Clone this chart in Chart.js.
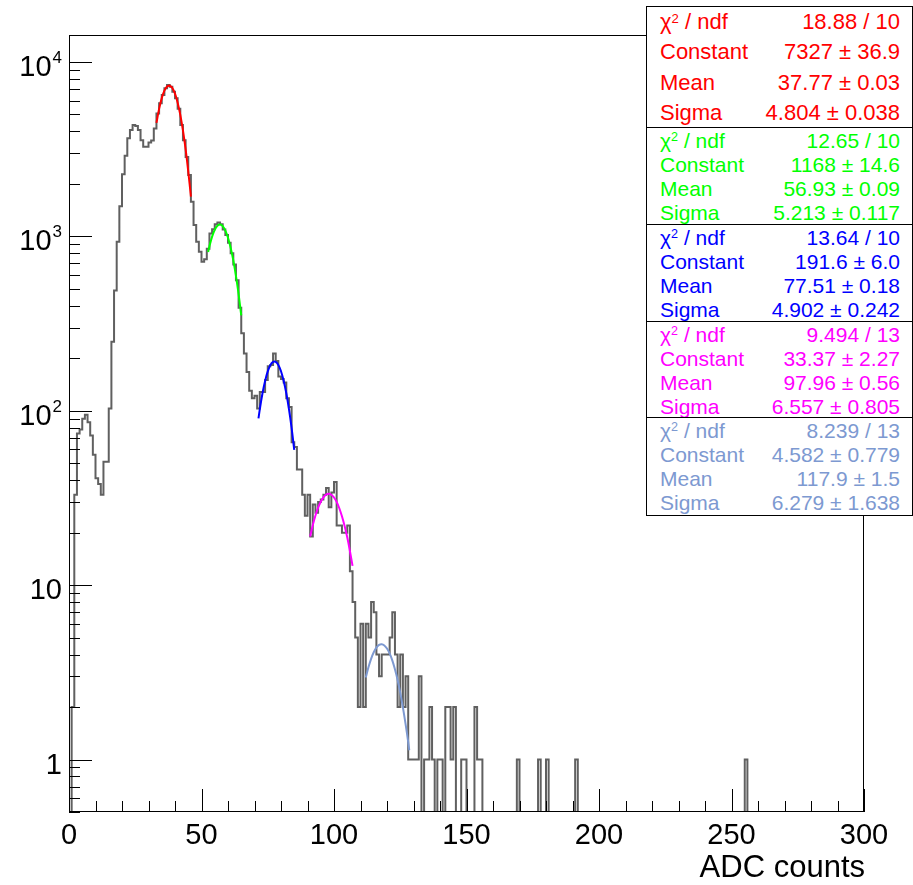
<!DOCTYPE html>
<html>
<head>
<meta charset="utf-8">
<script src="https://cdn.jsdelivr.net/npm/chart.js@4/dist/chart.umd.min.js"></script>
<style>
  html, body { margin: 0; padding: 0; background: #fff; }
  #wrap { position: relative; width: 913px; height: 885px; }
  #stats {
    position: absolute; left: 646px; top: 6px; width: 267px; height: 510px;
    box-sizing: border-box; border: 1px solid #000; background: #fff;
    font-family: "Liberation Sans", Arial, sans-serif;
  }
  .sep { position: absolute; left: 0; right: 0; height: 0; border-top: 1px solid #000; }
  .row { position: absolute; left: 13px; right: 12px; white-space: nowrap; }
  .row .v { position: absolute; right: 0; top: 0; }
  .row sup { font-size: 0.6em; vertical-align: 0; position: relative; top: -0.5em; line-height: 0; }
</style>
</head>
<body>
<div id="wrap">
  <canvas id="chart" width="913" height="885"></canvas>
  <div id="stats"></div>
</div>
<script>
// HISTOGRAM (ADC counts, 1 count per bin, bins 0..299)
const counts = [
  0, 2, 33, 74, 78, 90, 95, 86, 72, 56,
  41, 38, 33, 51, 51, 103, 249, 490, 930, 1490,
  2270, 2900, 3650, 4070, 4350, 4300, 4070, 3560, 3270, 3270,
  3450, 3550, 4160, 5070, 5800, 6460, 7060, 7380, 7200, 6750,
  6200, 5400, 4350, 3560, 2850, 2250, 1580, 1160, 930, 817,
  715, 740, 850, 1040, 1100, 1175, 1200, 1175, 1095, 1017,
  918, 800, 690, 560, 390, 278, 213, 167, 130, 118,
  122, 103, 128, 128, 150, 180, 183, 213, 193, 157,
  152, 145, 118, 105, 66, 62, 46, 46, 33, 25,
  33, 19, 29, 26, 30, 31, 33, 36, 28, 34,
  39, 22, 22, 20, 20, 22, 12, 8, 5, 2,
  6, 2, 6, 5, 8, 7, 4, 3, 4, 4,
  4, 5, 7, 4, 2, 4, 2, 3, 1, 1,
  1, 1, 3, 0, 1, 1, 2, 1, 0, 1,
  1, 0, 2, 2, 1, 2, 0, 0, 1, 1,
  0, 0, 0, 2, 1, 1, 0, 0, 0, 0,
  0, 0, 0, 0, 0, 0, 0, 0, 0, 1,
  0, 0, 0, 0, 0, 0, 0, 1, 0, 0,
  1, 0, 0, 0, 0, 0, 0, 0, 0, 0,
  0, 1, 0, 0, 0, 0, 0, 0, 0, 0,
  0, 0, 0, 0, 0, 0, 0, 0, 0, 0,
  0, 0, 0, 0, 0, 0, 0, 0, 0, 0,
  0, 0, 0, 0, 0, 0, 0, 0, 0, 0,
  0, 0, 0, 0, 0, 0, 0, 0, 0, 0,
  0, 0, 0, 0, 0, 0, 0, 0, 0, 0,
  0, 0, 0, 0, 0, 1, 0, 0, 0, 0,
  0, 0, 0, 0, 0, 0, 0, 0, 0, 0,
  0, 0, 0, 0, 0, 0, 0, 0, 0, 0,
  0, 0, 0, 0, 0, 0, 0, 0, 0, 0,
  0, 0, 0, 0, 0, 0, 0, 0, 0, 0
];

// FIT CURVES
const redFitX = [33, 34, 35, 36, 37, 37.77, 38, 39, 40, 41, 42, 43, 44, 45, 46];
const redFitY = [4475, 5385, 6205, 6845, 7233, 7327, 7319, 7090, 6580, 5845, 4973, 4050, 3160, 2360, 1690];
const greenFitX = [52.5, 53, 54, 55, 56, 57, 58, 59, 60, 61, 62, 63, 64, 65];
const greenFitY = [814, 879, 997, 1091, 1150, 1168, 1144, 1079, 982, 861, 728, 593, 466, 352];
const blueFitX = [71.5, 72, 73, 74, 75, 76, 77, 78, 79, 80, 81, 82, 83, 84, 85];
const blueFitY = [90.4, 101.9, 125.5, 148.3, 168.1, 182.7, 190.6, 190.6, 183.0, 168.4, 148.7, 126.0, 102.3, 79.8, 59.6];
const pinkFitX = [91, 92, 93, 94, 95, 96, 97, 98, 99, 100, 101, 102, 103, 104, 105, 106, 107];
const pinkFitY = [19.0, 22.1, 25.1, 27.8, 30.1, 31.9, 33.0, 33.37, 33.0, 31.8, 30.0, 27.6, 24.8, 21.8, 18.8, 15.7, 12.9];
const lblueFitX = [112, 113, 114, 115, 116, 117, 118, 119, 120, 121, 122, 123, 124, 125, 126, 127, 128, 128.4];
const lblueFitY = [2.95, 3.38, 3.78, 4.12, 4.38, 4.54, 4.58, 4.51, 4.33, 4.06, 3.70, 3.29, 2.86, 2.42, 1.99, 1.60, 1.26, 1.13];

// AXES
const xTickValues = [0, 50, 100, 150, 200, 250, 300];
const xTickLabels = ["0", "50", "100", "150", "200", "250", "300"];
const yTickValues = [1, 10, 100, 1000, 10000];
const yTickBase = ["1", "10", "10", "10", "10"];
const yTickExp = ["", "", "2", "3", "4"];
const xTitle = "ADC counts";

// STATS BOX
const statColors = ["#ff0000", "#00ff00", "#0000ff", "#ff00ff", "#7d99d1"];
const statChi = ["18.88 / 10", "12.65 / 10", "13.64 / 10", "9.494 / 13", "8.239 / 13"];
const statConst = ["7327 \u00b1 36.9", "1168 \u00b1 14.6", "191.6 \u00b1 6.0", "33.37 \u00b1 2.27", "4.582 \u00b1 0.779"];
const statMean = ["37.77 \u00b1 0.03", "56.93 \u00b1 0.09", "77.51 \u00b1 0.18", "97.96 \u00b1 0.56", "117.9 \u00b1 1.5"];
const statSigma = ["4.804 \u00b1 0.038", "5.213 \u00b1 0.117", "4.902 \u00b1 0.242", "6.557 \u00b1 0.805", "6.279 \u00b1 1.638"];

const FONT = '"Liberation Sans", Arial, sans-serif';
// log axis cannot show 0: empty bins are sent below the frame and clipped
const EMPTY_BIN = 0.01;

// build histogram outline points (bin left edges)
const histPoints = [{ x: 0, y: EMPTY_BIN }];
counts.forEach((c, i) => histPoints.push({ x: i, y: c > 0 ? c : EMPTY_BIN }));
histPoints.push({ x: counts.length, y: histPoints[histPoints.length - 1].y });
histPoints.push({ x: counts.length, y: EMPTY_BIN });

function fitDataset(xs, ys, color) {
    return {
        data: xs.map((x, i) => ({ x: x, y: ys[i] })),
        borderColor: color,
        borderWidth: 2,
        pointRadius: 0,
        tension: 0.4,
        fill: false,
        clip: 0
    };
}

// ROOT style frame, inner ticks and labels
const rootAxes = {
    id: "rootAxes",
    afterDraw(chart) {
        const { ctx, chartArea: a, scales: { x, y } } = chart;
        ctx.save();
        ctx.strokeStyle = "#000";
        ctx.lineWidth = 1;
        ctx.strokeRect(a.left + 0.5, a.top + 0.5, a.right - a.left - 1, a.bottom - a.top - 1);

        // x ticks every 10, major every 50
        for (let v = 0; v <= 300; v += 10) {
            const px = Math.round(x.getPixelForValue(v)) + 0.5;
            const len = v % 50 === 0 ? 23 : 11;
            ctx.beginPath();
            ctx.moveTo(px, a.bottom);
            ctx.lineTo(px, a.bottom - len);
            ctx.stroke();
        }
        // y ticks: decades major, 2..9 minor
        for (let d = -1; d <= 4; d++) {
            for (let k = 1; k <= 9; k++) {
                const v = k * Math.pow(10, d);
                if (v < y.min || v > y.max) continue;
                const py = Math.round(y.getPixelForValue(v)) + 0.5;
                const len = k === 1 ? 23 : 11;
                ctx.beginPath();
                ctx.moveTo(a.left, py);
                ctx.lineTo(a.left + len, py);
                ctx.stroke();
            }
        }

        ctx.fillStyle = "#000";
        // x labels
        ctx.font = "29px " + FONT;
        ctx.textAlign = "center";
        ctx.textBaseline = "alphabetic";
        xTickValues.forEach((v, i) => {
            ctx.fillText(xTickLabels[i], x.getPixelForValue(v), a.bottom + 32);
        });
        // y labels with superscript exponents
        yTickValues.forEach((v, i) => {
            const py = y.getPixelForValue(v);
            let right = a.left - 7;
            ctx.textAlign = "right";
            if (yTickExp[i]) {
                ctx.font = "17px " + FONT;
                ctx.fillText(yTickExp[i], right, py + 1);
                right -= ctx.measureText(yTickExp[i]).width + 1;
            }
            ctx.font = "29px " + FONT;
            ctx.fillText(yTickBase[i], right, py + 14);
        });
        // axis title
        ctx.font = "31px " + FONT;
        ctx.textAlign = "right";
        ctx.fillText(xTitle, a.right + 1, a.bottom + 65);
        ctx.restore();
    }
};

new Chart(document.getElementById("chart"), {
    type: "line",
    data: {
        datasets: [
            fitDataset(redFitX, redFitY, statColors[0]),
            fitDataset(greenFitX, greenFitY, statColors[1]),
            fitDataset(blueFitX, blueFitY, statColors[2]),
            fitDataset(pinkFitX, pinkFitY, statColors[3]),
            fitDataset(lblueFitX, lblueFitY, statColors[4]),
            {
                data: histPoints,
                borderColor: "#606060",
                borderWidth: 2,
                pointRadius: 0,
                stepped: "before",
                fill: false,
                clip: 0
            }
        ]
    },
    options: {
        responsive: false,
        animation: false,
        layout: { padding: { left: 69, right: 49, top: 35, bottom: 73 } },
        plugins: { legend: { display: false }, tooltip: { enabled: false } },
        scales: {
            x: { type: "linear", min: 0, max: 300, display: false },
            y: { type: "logarithmic", min: 0.5, max: 14280, display: false }
        }
    },
    plugins: [rootAxes]
});

// STATS BOX (one section per fit)
const statEdges = [0, 121, 218, 315, 411, 508];
const stats = document.getElementById("stats");
statColors.forEach((color, s) => {
    const top = statEdges[s];
    const h = statEdges[s + 1] - statEdges[s];
    const fs = s === 0 ? 22 : 21;
    if (s > 0) {
        const sep = document.createElement("div");
        sep.className = "sep";
        sep.style.top = (top - 1) + "px";
        stats.appendChild(sep);
    }
    const labels = ["\u03c7<sup>2</sup> / ndf", "Constant", "Mean", "Sigma"];
    const values = [statChi[s], statConst[s], statMean[s], statSigma[s]];
    labels.forEach((lab, k) => {
        const row = document.createElement("div");
        row.className = "row";
        row.style.color = color;
        row.style.fontSize = fs + "px";
        row.style.lineHeight = fs + "px";
        row.style.height = fs + "px";
        row.style.top = (top + (k + 0.5) * h / 4 - fs / 2) + "px";
        row.innerHTML = "<span>" + lab + "</span><span class=\"v\">" + values[k] + "</span>";
        stats.appendChild(row);
    });
});
</script>
</body>
</html>
